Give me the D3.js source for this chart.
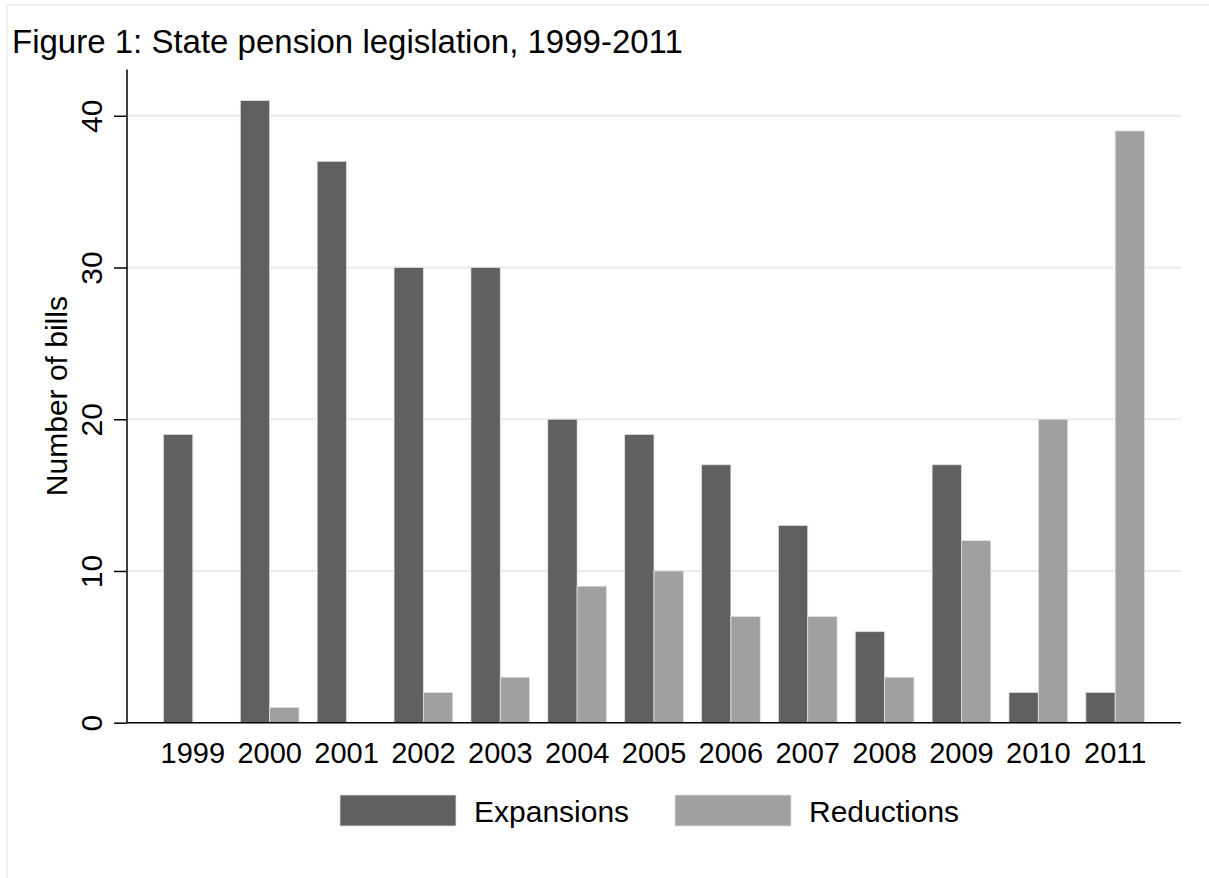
<!DOCTYPE html>
<html>
<head>
<meta charset="utf-8">
<script src="https://cdn.jsdelivr.net/npm/d3@7"></script>
<style>
  body { margin: 0; background: #fff; }
  svg { display: block; font-family: "Liberation Sans", Arial, sans-serif; }
</style>
</head>
<body>
<div id="chart"></div>
<script>
// data
var years = ["1999", "2000", "2001", "2002", "2003", "2004", "2005", "2006", "2007", "2008", "2009", "2010", "2011"];
var expansions = [19, 41, 37, 30, 30, 20, 19, 17, 13, 6, 17, 2, 2];
var reductions = [0, 1, 0, 2, 3, 9, 10, 7, 7, 3, 12, 20, 39];
var seriesNames = ["Expansions", "Reductions"];
var yTicks = [0, 10, 20, 30, 40];

function drawChart() {
    var width = 1209, height = 878;
    var left = 127, right = 1181, top = 69.5, bottom = 722.7;
    var colors = { "Expansions": "#606060", "Reductions": "#a0a0a0" };

    var svg = d3.select("#chart").append("svg")
        .attr("width", width)
        .attr("height", height);

    // outer frame (light, partly off the picture)
    svg.append("rect")
        .attr("x", 7).attr("y", 5)
        .attr("width", 1205).attr("height", 900)
        .attr("fill", "none")
        .attr("stroke", "#efefef")
        .attr("stroke-width", 2);

    svg.append("text")
        .attr("x", 12).attr("y", 53)
        .attr("font-size", 33)
        .text("Figure 1: State pension legislation, 1999-2011");

    var x = d3.scaleBand()
        .domain(years)
        .range([left, right])
        .paddingInner(0.236)
        .paddingOuter(0.474);

    var xs = d3.scaleBand()
        .domain(seriesNames)
        .range([0, x.bandwidth()]);

    var y = d3.scaleLinear()
        .domain([0, 43.05])
        .range([bottom, top]);

    // gridlines
    svg.append("g").selectAll("line")
        .data(yTicks.filter(function(d) { return d > 0; }))
        .enter().append("line")
        .attr("x1", left).attr("x2", right)
        .attr("y1", function(d) { return y(d); })
        .attr("y2", function(d) { return y(d); })
        .attr("stroke", "#eaeaea")
        .attr("stroke-width", 2);

    // bars
    var rows = years.map(function(yr, i) {
        return { year: yr, values: [
            { name: "Expansions", value: expansions[i] },
            { name: "Reductions", value: reductions[i] }
        ] };
    });

    var groups = svg.append("g").selectAll("g")
        .data(rows)
        .enter().append("g")
        .attr("transform", function(d) { return "translate(" + x(d.year) + ",0)"; });

    groups.selectAll("rect")
        .data(function(d) { return d.values.filter(function(v) { return v.value > 0; }); })
        .enter().append("rect")
        .attr("x", function(d) { return xs(d.name); })
        .attr("width", xs.bandwidth())
        .attr("y", function(d) { return y(d.value); })
        .attr("height", function(d) { return y(0) - y(d.value); })
        .attr("fill", function(d) { return colors[d.name]; })
        .attr("stroke", "#e2e2e2")
        .attr("stroke-width", 0.8);

    // y axis
    var yAxis = svg.append("g")
        .attr("transform", "translate(" + left + ",0)")
        .call(d3.axisLeft(y).tickValues(yTicks).tickSize(13).tickFormat(d3.format("d")));
    yAxis.select(".domain").attr("stroke", "#000").attr("stroke-width", 1.5)
        .attr("d", "M0," + top + "V" + bottom);
    yAxis.selectAll(".tick line").attr("stroke", "#000").attr("stroke-width", 1.5);
    yAxis.selectAll(".tick text")
        .attr("font-size", 30)
        .attr("font-family", "Liberation Sans, Arial, sans-serif")
        .attr("fill", "#000")
        .attr("text-anchor", "middle")
        .attr("dy", null)
        .attr("x", null)
        .attr("transform", "translate(-25,0) rotate(-90)");

    // x axis
    var xAxis = svg.append("g")
        .attr("transform", "translate(0," + bottom + ")")
        .call(d3.axisBottom(x).tickSize(0).tickPadding(0));
    xAxis.select(".domain").attr("stroke", "#000").attr("stroke-width", 1.5)
        .attr("d", "M" + left + ",0H" + right);
    xAxis.selectAll(".tick text")
        .attr("font-size", 29)
        .attr("font-family", "Liberation Sans, Arial, sans-serif")
        .attr("fill", "#000")
        .attr("dy", null)
        .attr("y", 40);

    // y title
    svg.append("text")
        .attr("transform", "translate(67," + ((top + bottom) / 2) + ") rotate(-90)")
        .attr("text-anchor", "middle")
        .attr("font-size", 30)
        .text("Number of bills");

    // legend
    var legendX = [340, 675];
    var legend = svg.append("g").selectAll("g")
        .data(seriesNames)
        .enter().append("g")
        .attr("transform", function(d, i) { return "translate(" + legendX[i] + ",795)"; });
    legend.append("rect")
        .attr("width", 116).attr("height", 31)
        .attr("fill", function(d) { return colors[d]; })
        .attr("stroke", "#e2e2e2")
        .attr("stroke-width", 0.8);
    legend.append("text")
        .attr("x", 134).attr("y", 27)
        .attr("font-size", 30)
        .text(function(d) { return d; });
}

if (document.readyState === "loading") {
    document.addEventListener("DOMContentLoaded", drawChart);
} else {
    drawChart();
}
</script>
</body>
</html>
